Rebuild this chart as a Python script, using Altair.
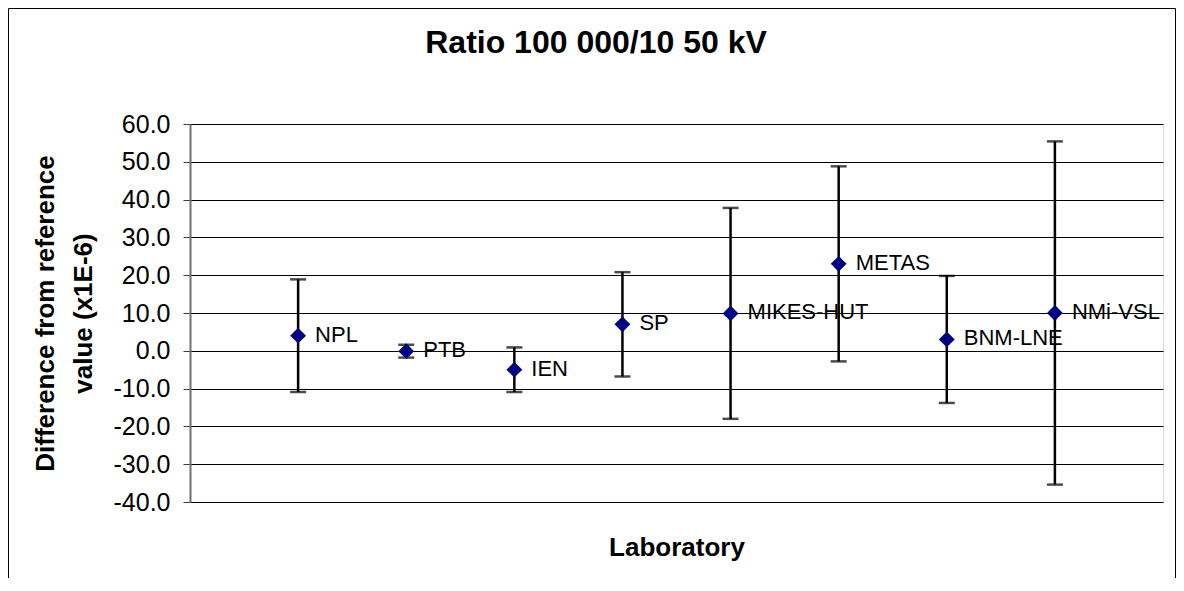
import altair as alt
import pandas as pd

title_text = "Ratio 100 000/10 50 kV"
labs = ["NPL", "PTB", "IEN", "SP", "MIKES-HUT", "METAS", "BNM-LNE", "NMi-VSL"]
pos = [1, 2, 3, 4, 5, 6, 7, 8]
vals = [4.0, -0.1, -5.0, 7.0, 9.9, 23.0, 3.0, 10.0]
unc = [14.9, 1.7, 5.9, 13.8, 27.9, 25.8, 16.8, 45.4]
yticks = [-40, -30, -20, -10, 0, 10, 20, 30, 40, 50, 60]

df = pd.DataFrame({"lab": labs, "x": pos, "v": vals, "u": unc})
df["lo"] = df["v"] - df["u"]
df["hi"] = df["v"] + df["u"]

FONT = "Liberation Sans"

xs = alt.Scale(domain=[0, 9], nice=False, zero=False)
ys = alt.Scale(domain=[-40, 60], nice=False, zero=False)

xax = alt.Axis(title="Laboratory", labels=False, ticks=False, grid=False, domain=False,
               titleFontSize=26, titleFont=FONT, titleFontWeight="bold", titleColor="black",
               titleY=53, titleBaseline="alphabetic")
yax = alt.Axis(values=yticks, tickCount=11,
               labelExpr="replace(format(datum.value, '.1f'), '\u2212', '-')",
               labelOverlap=False, labelFlush=False,
               tickSize=7, tickColor="#404040", tickWidth=1, labelPadding=13,
               labelFontSize=25, labelFont=FONT, labelColor="black",
               domainColor="#707070", domainWidth=2,
               gridColor="black", gridWidth=1,
               title=["Difference from reference", "value (x1E-6)"],
               titleFontSize=26, titleFont=FONT, titleFontWeight="bold", titleColor="black",
               titleAngle=270, titleX=-136.5, titleY=189, titleBaseline="alphabetic",
               titleAlign="center", titleLineHeight=38)


def X():
    return alt.X("x:Q", scale=xs, axis=xax)


def Y(f):
    return alt.Y(f + ":Q", scale=ys, axis=yax)


base = alt.Chart(df)

rules = base.mark_rule(color="black", strokeWidth=2.5).encode(x=X(), y=Y("lo"), y2="hi:Q")
cap_lo = base.mark_tick(color="black", thickness=2.5, size=16, orient="horizontal").encode(
    x=X(), y=Y("lo"))
cap_hi = base.mark_tick(color="black", thickness=2.5, size=16, orient="horizontal").encode(
    x=X(), y=Y("hi"))
pts = base.mark_point(shape="diamond", filled=True, color="#000080", size=250, opacity=1).encode(
    x=X(), y=Y("v"))
txt = base.mark_text(align="left", baseline="middle", dx=17, dy=-1, fontSize=22,
                     font=FONT, color="black").encode(x=X(), y=Y("v"), text="lab:N")

one = pd.DataFrame({"t": [title_text]})
border = alt.Chart(one).mark_rect(
    fillOpacity=0, stroke="black", strokeWidth=1).encode(
    x=alt.value(-181.5), x2=alt.value(985.5), y=alt.value(-115.5), y2=alt.value(460))
title = alt.Chart(one).mark_text(
    align="center", baseline="alphabetic", fontSize=32, font=FONT, fontWeight="bold",
    color="black").encode(x=alt.value(406), y=alt.value(-71), text="t:N")

chart = alt.layer(border, title, rules, cap_lo, cap_hi, pts, txt).properties(
    width=973, height=378,
    autosize=alt.AutoSizeParams(type="none"),
    padding={"left": 182, "top": 116, "right": 13, "bottom": 76},
).configure_view(stroke="#808080", strokeWidth=2).configure(background="white")

chart.save("out.html", embed_options={"renderer": "svg", "actions": False})
